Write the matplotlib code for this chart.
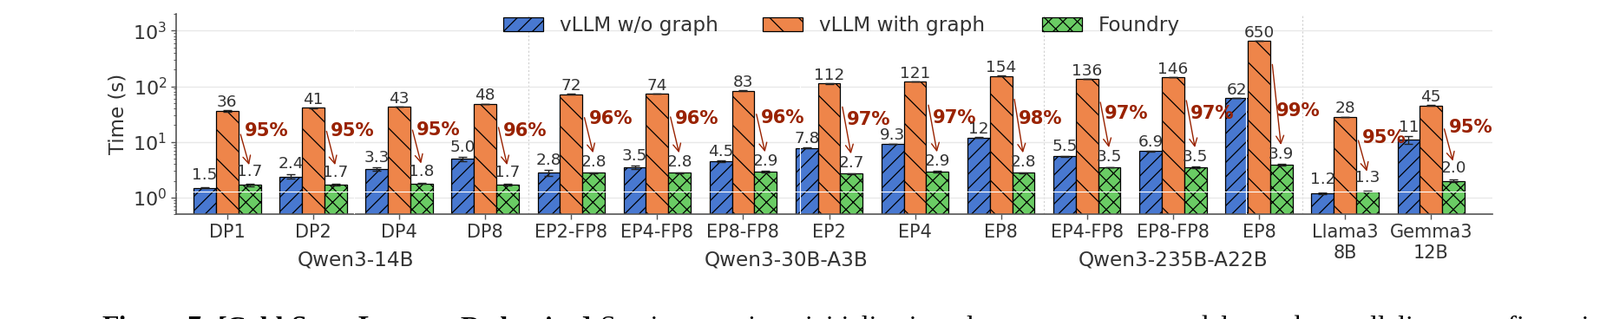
import numpy as np
import matplotlib
matplotlib.use("Agg")
import matplotlib.pyplot as plt
from matplotlib.ticker import LogLocator

# ---------------- data ----------------
configs = ['DP1', 'DP2', 'DP4', 'DP8',
           'EP2-FP8', 'EP4-FP8', 'EP8-FP8', 'EP2', 'EP4', 'EP8',
           'EP4-FP8', 'EP8-FP8', 'EP8',
           'Llama3\n8B', 'Gemma3\n12B']
groups = ['Qwen3-14B', 'Qwen3-30B-A3B', 'Qwen3-235B-A22B']
group_centers = [1.5, 6.5, 11.0]
separators = [3.5, 9.5, 12.5]

vllm_wo_graph = [1.5, 2.4, 3.3, 5.0, 2.8, 3.5, 4.5, 7.8, 9.3, 12, 5.5, 6.9, 62, 1.2, 11]
vllm_with_graph = [36, 41, 43, 48, 72, 74, 83, 112, 121, 154, 136, 146, 650, 28, 45]
foundry = [1.7, 1.7, 1.8, 1.7, 2.8, 2.8, 2.9, 2.7, 2.9, 2.8, 3.5, 3.5, 3.9, 1.3, 2.0]

err_wo = [0.03, 0.2, 0.22, 0.45, 0.33, 0.25, 0.1, 0.1, 0.05, 0.1, 0.1, 0.1, 0.3, 0.03, 1.8]
err_with = [0.8, 0.5, 0.6, 0.6, 0.6, 0.6, 1.5, 1.0, 1.0, 1.0, 1.0, 1.0, 3.0, 0.4, 0.8]
err_foundry = [0.1, 0.05, 0.05, 0.05, 0.05, 0.05, 0.12, 0.05, 0.1, 0.05, 0.05, 0.12, 0.08, 0.03, 0.12]

reduction_pct = [95, 95, 95, 96, 96, 96, 96, 97, 97, 98, 97, 97, 99, 95, 95]

series_names = ['vLLM w/o graph', 'vLLM with graph', 'Foundry']
colors = ['#4878d0', '#ee854a', '#6acc64']
hatches = ['//', '\\', 'xx']
RED = '#992200'
TXT = '#333333'

caption_bold = 'Figure 7: [Cold Start Latency Reduction]'
caption_rest = 'Serving engine initialization latency across models and parallelism configurations.'

# ---------------- plot ----------------
plt.rcParams['hatch.linewidth'] = 0.9
fig = plt.figure(figsize=(18.44, 3.68), dpi=100)
ax = fig.add_axes([0.1103, 0.328, 0.8222, 0.6285])

x = np.arange(len(configs))
w = 0.26
series = [vllm_wo_graph, vllm_with_graph, foundry]
errs = [err_wo, err_with, err_foundry]
offsets = [-w, 0, w]

ax.set_yscale('log')
ax.set_ylim(0.5, 2000)
ax.set_xlim(-0.59, 14.71)

ax.set_axisbelow(True)
ax.yaxis.grid(True, which='major', color='#e8e8e8', lw=1.0, zorder=0)
for s in separators:
    ax.axvline(s, color='#cfcfcf', ls=(0, (2, 2)), lw=0.8, zorder=0.5)

handles = []
for vals, er, off, c, h, name in zip(series, errs, offsets, colors, hatches, series_names):
    b = ax.bar(x + off, vals, w, color=c, edgecolor='black', lw=0.9, hatch=h,
               label=name, zorder=2)
    ax.errorbar(x + off, vals, yerr=er, fmt='none', ecolor='#222222', elinewidth=1.0,
                capsize=3.5, capthick=1.0, zorder=3)
    handles.append(b)
    for xi, v, e in zip(x + off, vals, er):
        lab = f'{v:.1f}' if v < 10 else f'{v:.0f}'
        ax.text(xi, v + e + 0.3, lab, ha='center', va='bottom', fontsize=13.3,
                color=TXT, zorder=5)

# faint white artefact lines seen in the reference
ax.axhline(1.27, color='white', lw=0.8, zorder=3.5)
for xv in [1.47, 6.66, 11.85]:
    ax.axvline(xv, color='white', lw=0.8, zorder=3.5)

for i, (o, g, p) in enumerate(zip(vllm_with_graph, foundry, reduction_pct)):
    ax.annotate('', xy=(i + 0.255, g * 2.28), xytext=(i + 0.155, o * 0.38),
                arrowprops=dict(arrowstyle='->', color=RED, lw=1.0, mutation_scale=16,
                                shrinkA=0, shrinkB=0), zorder=6)
    ax.text(i + 0.46, g * 9.2, f'{p}%', ha='center', va='center', fontsize=15.2,
            fontweight='bold', color=RED, zorder=6)

ax.set_xticks(x)
ax.set_xticklabels(configs, fontsize=15, color=TXT, linespacing=1.2)
ax.tick_params(axis='x', length=4, width=1, color='#555555', pad=4)
ax.tick_params(axis='y', which='major', length=4, width=1, color='#555555', pad=4,
               labelsize=16, labelcolor=TXT)
ax.tick_params(axis='y', which='minor', length=2, width=0.7, color='#555555')
ax.yaxis.set_major_locator(LogLocator(base=10, numticks=10))
ax.yaxis.set_minor_locator(LogLocator(base=10, subs=np.arange(2, 10), numticks=20))

ax.set_ylabel('Time (s)', fontsize=16.5, color=TXT, labelpad=4)

for sp in ['top', 'right']:
    ax.spines[sp].set_visible(False)
for sp in ['left', 'bottom']:
    ax.spines[sp].set_color('#555555')
    ax.spines[sp].set_linewidth(1.2)

for gx, gname in zip(group_centers, groups):
    ax.text(gx, -0.228, gname, transform=ax.get_xaxis_transform(), ha='center',
            va='center', fontsize=16.7, color=TXT)

legend_labels = [series_names[0], series_names[1] + '  ', series_names[2]]
ax.legend(handles=handles, labels=legend_labels, loc='upper center',
          bbox_to_anchor=(0.5055, 1.08), ncol=3, frameon=False, fontsize=16.7,
          handlelength=2.0, handleheight=0.7, columnspacing=2.2, handletextpad=0.8,
          labelcolor=TXT)

# caption (justified line, cut at the bottom edge as in the reference)
fig.canvas.draw()
renderer = fig.canvas.get_renderer()
cap_y = -0.049


def place_words(text, bold, x0, x1):
    objs = [fig.text(0, cap_y, wd, fontsize=23, family='Liberation Serif',
                     fontweight='bold' if bold else 'normal', va='baseline',
                     ha='left', color='black') for wd in text.split()]
    widths = [t.get_window_extent(renderer).width for t in objs]
    gap = (x1 - x0 - sum(widths)) / (len(objs) - 1)
    cur = x0
    for t, wdt in zip(objs, widths):
        t.set_x(cur / 1844)
        cur += wdt + gap


place_words(caption_bold, True, 117.0, 682.0)
place_words(caption_rest, False, 692.0, 1885.0)

fig.savefig('out.png', dpi=100)
